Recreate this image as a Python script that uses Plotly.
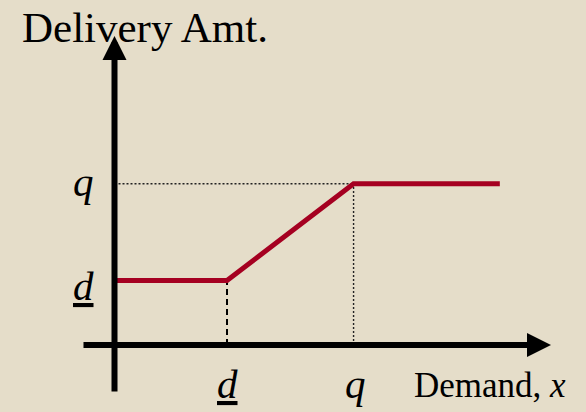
import plotly.graph_objects as go

# ---- data (abstract units) ----
demand_x = [0, 2, 4.25, 6.85]        # demand breakpoints
delivery_y = [2, 2, 5, 5]            # delivery amount
d_low_x, d_low_y = 2, 2              # d (underlined) on each axis
q_x, q_y = 4.25, 5                   # q on each axis

x_axis_span = [-0.578, 7.76]
y_axis_span = [-1.49, 9.58]

axis_title_y = "Delivery Amt."
axis_title_x = "Demand, <i>x</i>"
tick_q = "<i>q</i>"
tick_d = "<u><i>d</i></u>"

BG = "#E5DDC9"
RED = "#A50021"
FONT = "Times New Roman, Liberation Serif, serif"

fig = go.Figure()

# guides
fig.add_trace(go.Scatter(x=[d_low_x, d_low_x], y=[0, d_low_y], mode="lines",
                         line=dict(color="black", width=2, dash="6px,4px"),
                         hoverinfo="skip", showlegend=False))
fig.add_trace(go.Scatter(x=[0, q_x], y=[q_y, q_y], mode="lines",
                         line=dict(color="#222222", width=1.4, dash="2px,2px"),
                         hoverinfo="skip", showlegend=False))
fig.add_trace(go.Scatter(x=[q_x, q_x], y=[0, q_y], mode="lines",
                         line=dict(color="#222222", width=1.4, dash="2px,2px"),
                         hoverinfo="skip", showlegend=False))

# delivery function
fig.add_trace(go.Scatter(x=demand_x, y=delivery_y, mode="lines",
                         line=dict(color=RED, width=5),
                         hoverinfo="skip", showlegend=False))

# axes with arrows
for tip, tail in [((x_axis_span[1], 0), (x_axis_span[0], 0)),
                  ((0, y_axis_span[1]), (0, y_axis_span[0]))]:
    fig.add_annotation(x=tip[0], y=tip[1], ax=tail[0], ay=tail[1],
                       xref="x", yref="y", axref="x", ayref="y", text="",
                       showarrow=True, arrowhead=2, arrowwidth=6, arrowsize=0.8,
                       arrowcolor="black")

def label(text, px, py, size):
    fig.add_annotation(x=px / 586, y=1 - py / 412, xref="paper", yref="paper",
                       text=text, showarrow=False, xanchor="center", yanchor="middle",
                       font=dict(family=FONT, size=size, color="black"))

label(axis_title_y, 145, 28, 43)
label(tick_q, 83, 182, 41)
label(tick_d, 83, 286, 41)
label(tick_d, 227, 384, 41)
label(tick_q, 355, 384, 41)
label(axis_title_x, 490, 385, 35)

fig.update_layout(
    width=586, height=412,
    margin=dict(l=0, r=0, t=0, b=0),
    paper_bgcolor=BG, plot_bgcolor=BG,
    xaxis=dict(range=[-2.0356, 8.382], visible=False, fixedrange=True),
    yaxis=dict(range=[-2.0775, 10.698], visible=False, fixedrange=True),
    showlegend=False,
)

fig.write_html("out.html", config={"displayModeBar": False},
               post_script="document.body.style.margin='0';"
                           "document.body.style.background='" + BG + "';")
